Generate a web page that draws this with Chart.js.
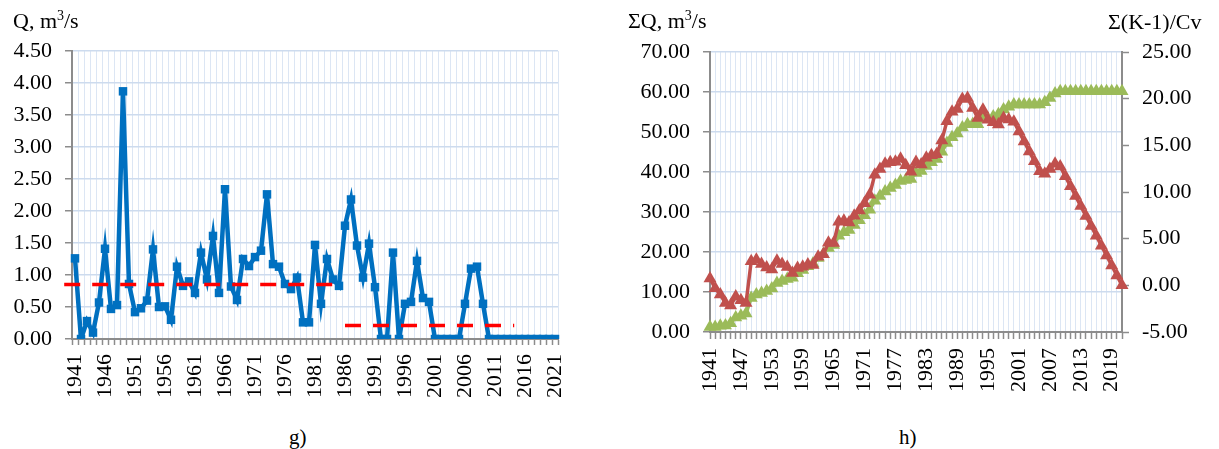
<!DOCTYPE html>
<html>
<head>
<meta charset="utf-8">
<script src="https://cdn.jsdelivr.net/npm/chart.js@4.4.1/dist/chart.umd.min.js"></script>
<style>
  body { margin:0; background:#fff; width:1219px; height:449px; overflow:hidden; position:relative; font-family:"Liberation Serif", serif; }
  canvas { position:absolute; top:0; }
  .lbl { position:absolute; font-size:22px; line-height:22px; color:#000; white-space:nowrap; }
  .lbl sup { font-size:14px; line-height:0; vertical-align:super; }
  .cap { position:absolute; font-size:21px; line-height:21px; color:#000; }
</style>
</head>
<body>
<canvas id="chartG" width="600" height="420" style="left:0"></canvas>
<canvas id="chartH" width="619" height="420" style="left:600px"></canvas>
<div class="lbl" style="left:13px;top:10px">Q, m<sup>3</sup>/s</div>
<div class="lbl" style="left:628px;top:10px">ΣQ, m<sup>3</sup>/s</div>
<div class="lbl" style="left:1108px;top:11px">Σ(K-1)/Cv</div>
<div class="cap" style="left:289px;top:427px">g)</div>
<div class="cap" style="left:899px;top:427px">h)</div>
<script>
const years = [1941,1942,1943,1944,1945,1946,1947,1948,1949,1950,
  1951,1952,1953,1954,1955,1956,1957,1958,1959,1960,
  1961,1962,1963,1964,1965,1966,1967,1968,1969,1970,
  1971,1972,1973,1974,1975,1976,1977,1978,1979,1980,
  1981,1982,1983,1984,1985,1986,1987,1988,1989,1990,
  1991,1992,1993,1994,1995,1996,1997,1998,1999,2000,
  2001,2002,2003,2004,2005,2006,2007,2008,2009,2010,
  2011,2012,2013,2014,2015,2016,2017,2018,2019,2020,2021];

// g) annual flow, m3/s
const flowQ = [1.26,0.00,0.28,0.10,0.57,1.41,0.47,0.53,3.87,0.86,
  0.42,0.48,0.60,1.40,0.50,0.51,0.30,1.13,0.83,0.90,
  0.72,1.35,0.93,1.61,0.72,2.34,0.82,0.61,1.25,1.14,
  1.28,1.38,2.26,1.17,1.13,0.86,0.78,0.96,0.26,0.26,
  1.47,0.55,1.25,0.93,0.83,1.77,2.18,1.46,0.96,1.49,
  0.81,0.00,0.00,1.35,0.00,0.55,0.58,1.22,0.64,0.58,
  0.00,0.00,0.00,0.00,0.00,0.55,1.10,1.13,0.55,0.00,
  0.00,0.00,0.00,0.00,0.00,0.00,0.00,0.00,0.00,0.00,0.00];

// red dashed period means (value, start year, end year)
const periodMeans = [0.85, 0.21];
const periodFrom = [1939.2, 1986.0];
const periodTo = [1984.3, 2014.2];

// h) cumulative flow, m3/s
const sumQ = [1.26,1.26,1.54,1.64,2.21,3.62,4.09,4.62,8.49,9.35,
  9.77,10.25,10.85,12.25,12.75,13.26,13.56,14.69,15.52,16.42,
  17.14,18.49,19.42,21.03,21.75,24.09,24.91,25.52,26.77,27.91,
  29.19,30.57,32.83,34.00,35.13,35.99,36.77,37.73,37.99,38.25,
  39.72,40.27,41.52,42.45,43.28,45.05,47.23,48.69,49.65,51.14,
  51.95,51.95,51.95,53.30,53.30,53.85,54.43,55.65,56.29,56.87,
  56.87,56.87,56.87,56.87,56.87,57.42,58.52,59.65,60.20,60.20,
  60.20,60.20,60.20,60.20,60.20,60.20,60.20,60.20,60.20,60.20,60.20];

// h) mass curve of deviations
const sumKCv = [0.74,-0.32,-0.99,-1.90,-2.15,-1.20,-1.59,-1.89,2.57,2.74,
  2.28,1.90,1.70,2.64,2.29,1.96,1.32,1.87,2.00,2.22,
  2.19,3.06,3.32,4.56,4.53,6.81,6.92,6.73,7.45,8.02,
  8.79,9.70,11.86,12.47,13.03,13.19,13.25,13.55,12.86,12.17,
  13.21,12.94,13.66,13.93,14.05,15.52,17.57,18.59,18.90,19.97,
  20.07,19.01,17.94,18.81,17.75,17.47,17.24,17.92,17.77,17.54,
  16.48,15.42,14.35,13.29,12.23,11.96,12.47,13.02,12.74,11.68,
  10.62,9.56,8.49,7.43,6.37,5.31,4.25,3.19,2.12,1.06,0.00];

Chart.defaults.font.family = '"Liberation Serif", serif';
Chart.defaults.color = '#000';

const axisGray = '#8c8c8c';
const gridV = '#dce6f4';
const gridH = '#cddbee';

const meanSets = periodMeans.map((m, i) => ({
  data: [{x: periodFrom[i], y: m}, {x: periodTo[i], y: m}],
  xAxisID: 'x2',
  borderColor: '#ff0000',
  borderWidth: 3.5,
  borderDash: [16, 12],
  pointRadius: 0,
  clip: false,
  order: 0
}));

new Chart(document.getElementById('chartG'), {
  type: 'line',
  data: {
    labels: years,
    datasets: [
      { data: flowQ, borderColor:'#0070c0', backgroundColor:'#0070c0', borderWidth:4.5,
        pointStyle:'rect', pointRadius:6, pointBorderWidth:0, tension:0, order:1 },
      ...meanSets
    ]
  },
  options: {
    responsive:false, animation:false, devicePixelRatio:1,
    layout:{ padding:{ top:51, right:42, left:0, bottom:0 } },
    plugins:{ legend:{ display:false }, tooltip:{ enabled:false } },
    scales:{
      x:{
        type:'category', offset:true,
        grid:{ offset:true, color:gridV, lineWidth:1, tickColor:axisGray, tickLength:6, tickWidth:1.5 },
        border:{ color:axisGray, width:2 },
        ticks:{ autoSkip:false, minRotation:90, maxRotation:90, padding:9, font:{ size:22 },
          callback:(v, i) => i % 5 === 0 ? years[i] : '' },
        afterFit: s => { s.height = 81; }
      },
      x2:{ type:'linear', display:false, min:1940.5, max:2021.5 },
      y:{
        min:0, max:4.5,
        grid:{ color:gridH, lineWidth:1.5, tickColor:axisGray, tickLength:7, tickWidth:1.5 },
        border:{ color:axisGray, width:2 },
        ticks:{ stepSize:0.5, padding:13, font:{ size:22 }, callback:v => v.toFixed(2) },
        afterFit: s => { s.width = 72; }
      }
    }
  }
});

new Chart(document.getElementById('chartH'), {
  type: 'line',
  data: {
    labels: years,
    datasets: [
      { data: sumKCv, yAxisID:'y2', borderColor:'#c0504d', backgroundColor:'#c0504d', borderWidth:3.5,
        pointStyle:'triangle', pointRadius:7.5, pointBorderWidth:0, tension:0, order:0 },
      { data: sumQ, yAxisID:'y', borderColor:'#9bbb59', backgroundColor:'#9bbb59', borderWidth:3.5,
        pointStyle:'triangle', pointRadius:7.5, pointBorderWidth:0, tension:0, order:1 }
    ]
  },
  options: {
    responsive:false, animation:false, devicePixelRatio:1,
    layout:{ padding:{ top:52, right:0, left:0, bottom:0 } },
    plugins:{ legend:{ display:false }, tooltip:{ enabled:false } },
    scales:{
      x:{
        type:'category', offset:false,
        grid:{ offset:false, color:gridV, lineWidth:1, tickColor:axisGray, tickLength:7, tickWidth:1.5 },
        border:{ color:axisGray, width:2 },
        ticks:{ autoSkip:false, minRotation:90, maxRotation:90, padding:9, font:{ size:22 },
          callback:(v, i) => i % 6 === 0 ? years[i] : '' },
        afterFit: s => { s.height = 88; }
      },
      y:{
        position:'left', min:0, max:70,
        grid:{ color:gridH, lineWidth:1.5, tickColor:axisGray, tickLength:7, tickWidth:1.5 },
        border:{ color:axisGray, width:2 },
        ticks:{ stepSize:10, padding:13, font:{ size:22 }, callback:v => v.toFixed(2) },
        afterFit: s => { s.width = 110; }
      },
      y2:{
        position:'right', min:-5, max:25,
        grid:{ drawOnChartArea:false, tickColor:axisGray, tickLength:7, tickWidth:1.5 },
        border:{ color:axisGray, width:2 },
        ticks:{ stepSize:5, padding:13, font:{ size:22 }, callback:v => v.toFixed(2) },
        afterFit: s => { s.width = 97; }
      }
    }
  }
});
</script>
</body>
</html>
